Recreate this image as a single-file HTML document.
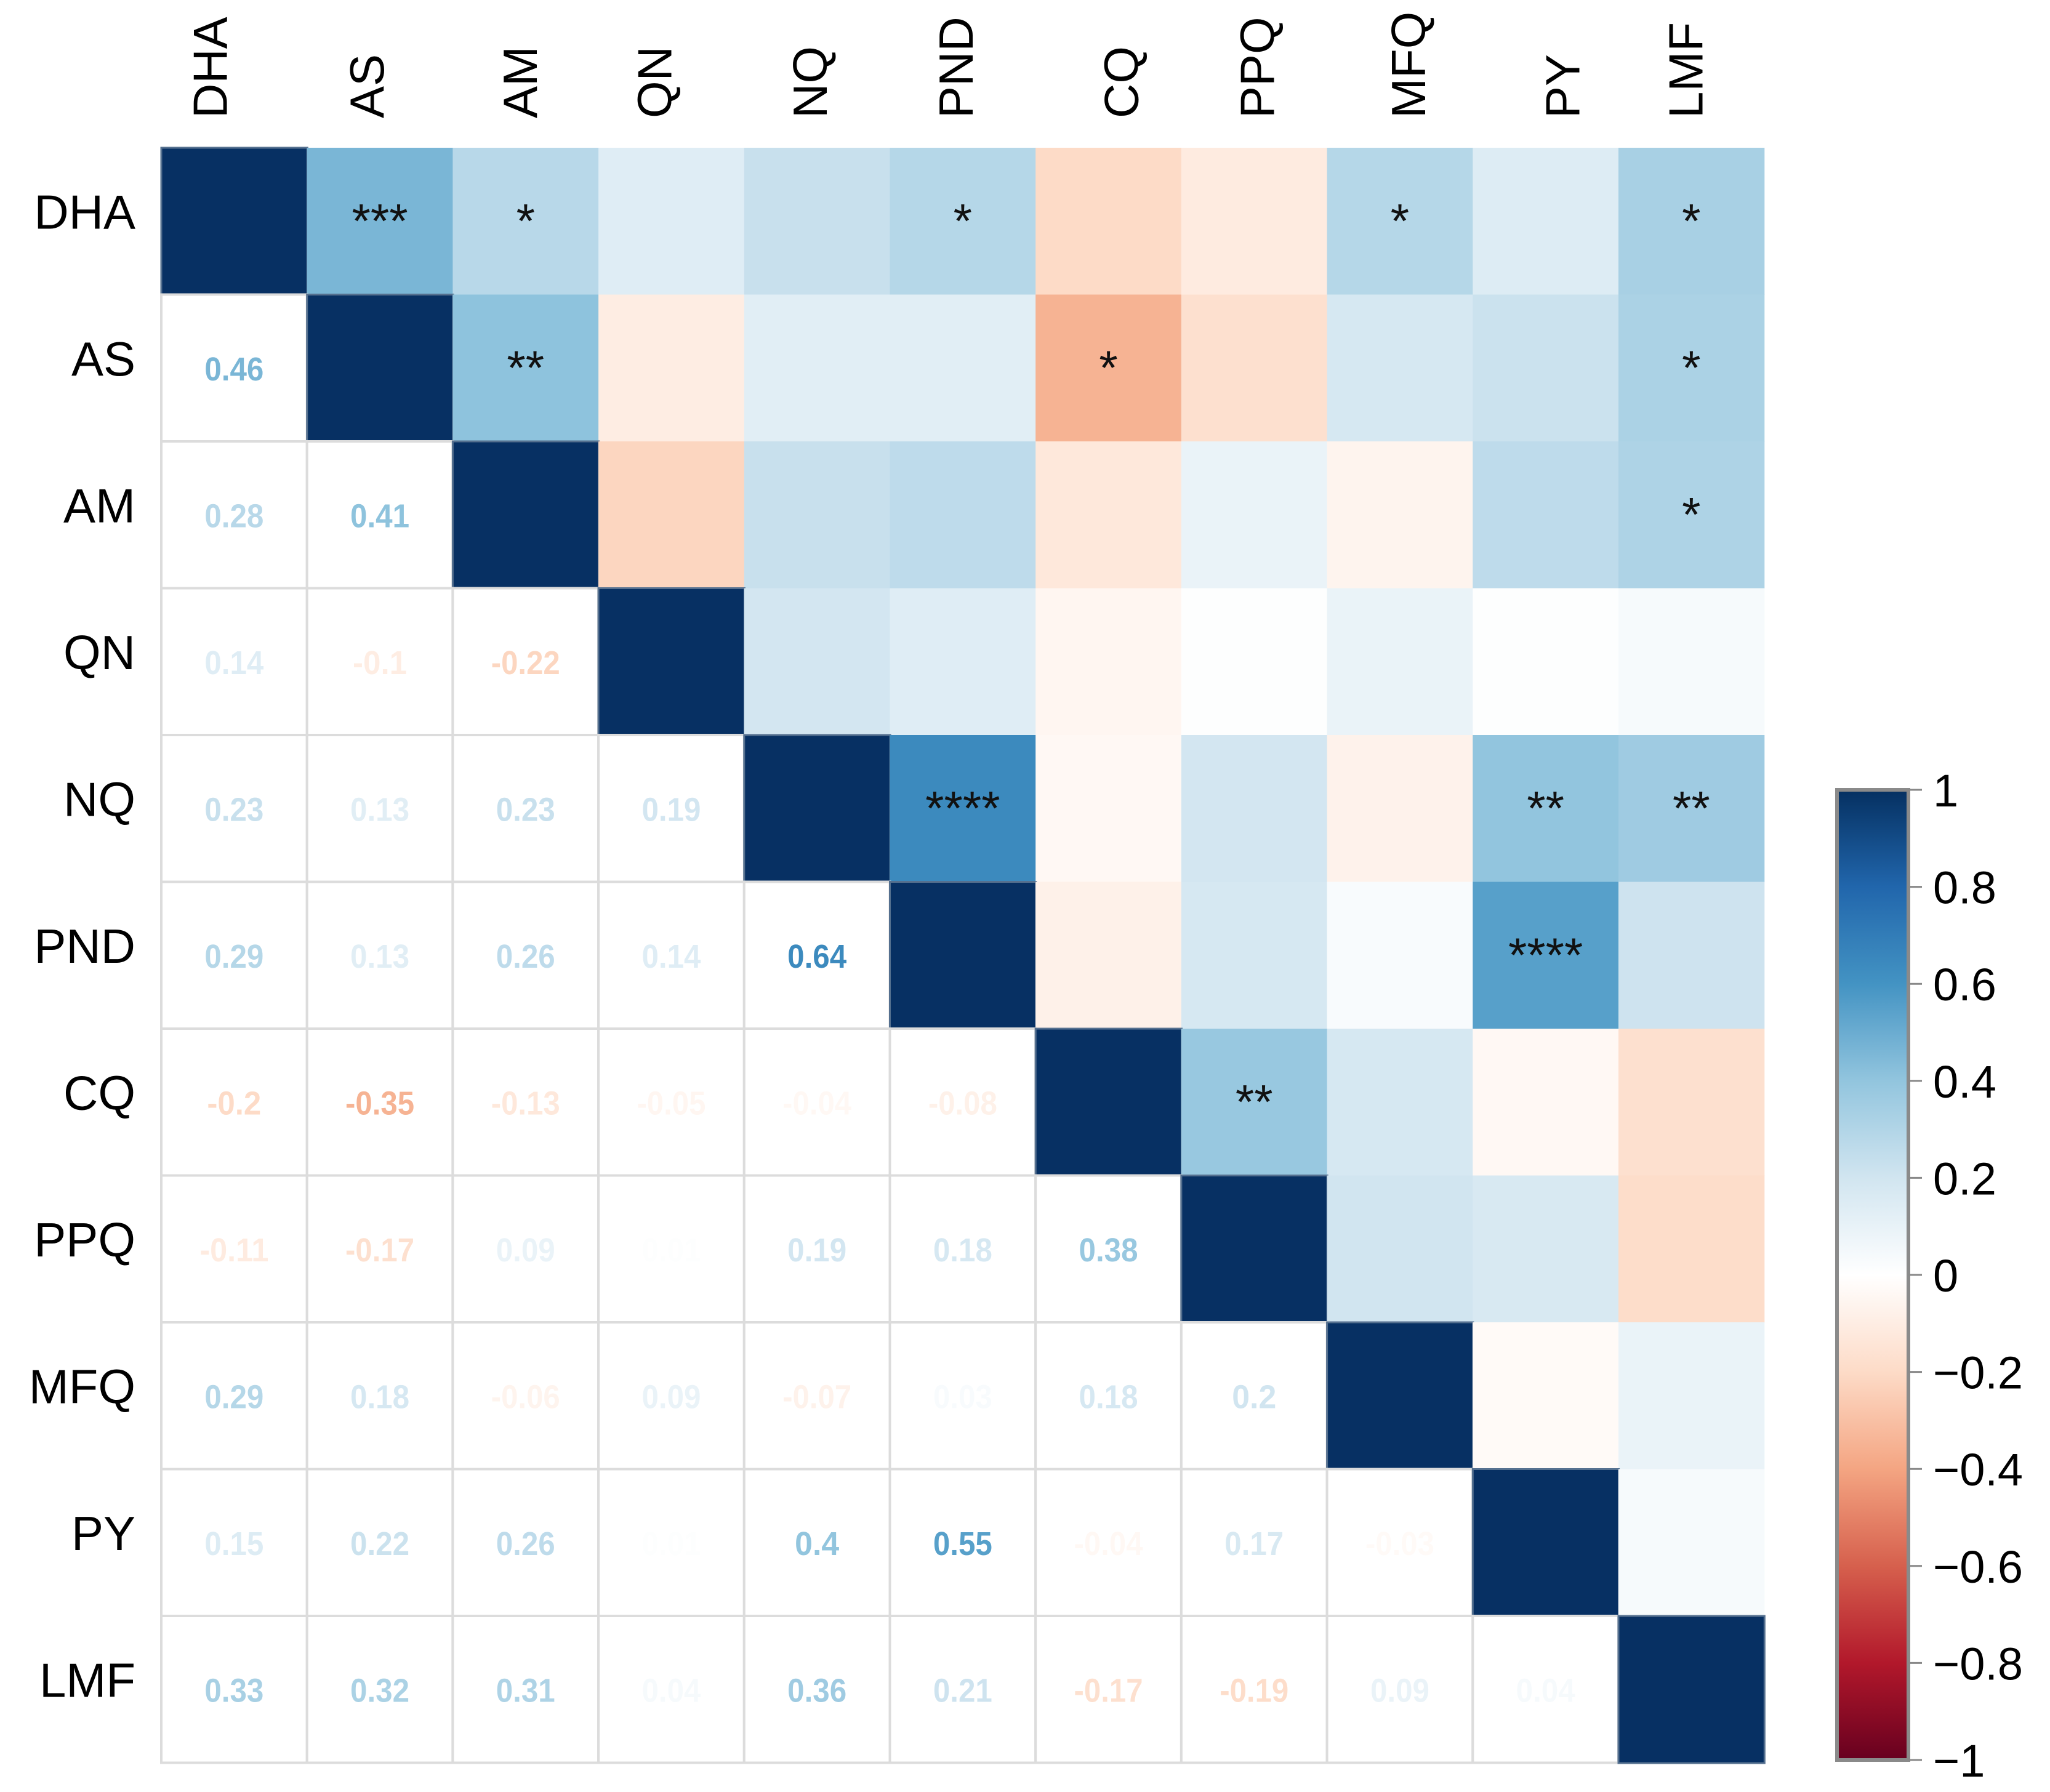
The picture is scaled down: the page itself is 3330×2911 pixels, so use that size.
<!DOCTYPE html>
<html><head><meta charset="utf-8"><style>
html,body{margin:0;padding:0;background:#fff;}
svg{display:block;font-family:"Liberation Sans",Arial,sans-serif;}
</style></head><body>
<svg id="chart" width="3330" height="2911" viewBox="0 0 3330 2911" xmlns="http://www.w3.org/2000/svg">
<defs>
<linearGradient id="cbar" x1="0" y1="1" x2="0" y2="0">
<stop offset="0" stop-color="#67001f"/><stop offset="0.1" stop-color="#b2182b"/><stop offset="0.2" stop-color="#d6604d"/><stop offset="0.3" stop-color="#f4a582"/><stop offset="0.4" stop-color="#fddbc7"/><stop offset="0.5" stop-color="#ffffff"/><stop offset="0.6" stop-color="#d1e5f0"/><stop offset="0.7" stop-color="#92c5de"/><stop offset="0.8" stop-color="#4393c3"/><stop offset="0.9" stop-color="#2166ac"/><stop offset="1" stop-color="#053061"/>
</linearGradient>
</defs>
<g id="cells"></g><g id="labels"></g>
<g id="legend"></g>
</svg>
<script>
const vars = ["DHA","AS","AM","QN","NQ","PND","CQ","PPQ","MFQ","PY","LMF"];
// lower-triangle correlations, row i has i values
const corrRows = [
 [],
 [0.46],
 [0.28,0.41],
 [0.14,-0.1,-0.22],
 [0.23,0.13,0.23,0.19],
 [0.29,0.13,0.26,0.14,0.64],
 [-0.2,-0.35,-0.13,-0.05,-0.04,-0.08],
 [-0.11,-0.17,0.09,0.01,0.19,0.18,0.38],
 [0.29,0.18,-0.06,0.09,-0.07,0.03,0.18,0.2],
 [0.15,0.22,0.26,0.01,0.4,0.55,-0.04,0.17,-0.03],
 [0.33,0.32,0.31,0.04,0.36,0.21,-0.17,-0.19,0.09,0.04]
];
// significance stars in upper triangle: [row, col, stars]
const sigStars = [[0,1,"***"],[0,2,"*"],[0,5,"*"],[0,8,"*"],[0,10,"*"],[1,2,"**"],[1,6,"*"],[1,10,"*"],[2,10,"*"],[4,5,"****"],[4,9,"**"],[4,10,"**"],[5,9,"****"],[6,7,"**"]];
const legendTicks = [1,0.8,0.6,0.4,0.2,0,-0.2,-0.4,-0.6,-0.8,-1];
const legendLabels = ["1","0.8","0.6","0.4","0.2","0","\u22120.2","\u22120.4","\u22120.6","\u22120.8","\u22121"];

const NS="http://www.w3.org/2000/svg";
const x0=262, y0=240, cw=236.7, ch=238.5;
const colX = i => x0 + i*cw;
const rowY = i => y0 + i*ch;
const stops=[[-1,[103,0,31]],[-0.8,[178,24,43]],[-0.6,[214,96,77]],[-0.4,[244,165,130]],[-0.2,[253,219,199]],[0,[255,255,255]],[0.2,[209,229,240]],[0.4,[146,197,222]],[0.6,[67,147,195]],[0.8,[33,102,172]],[1,[5,48,97]]];
function color(v){
  for(let k=0;k<stops.length-1;k++){
    const [a,ca]=stops[k],[b,cb]=stops[k+1];
    if(v>=a&&v<=b){const t=(v-a)/(b-a);return "rgb("+ca.map((c,j)=>Math.round(c+(cb[j]-c)*t)).join(",")+")";}
  }
  return "rgb(5,48,97)";
}
function corr(i,j){ if(i===j) return 1; return i>j?corrRows[i][j]:corrRows[j][i]; }
function mk(tag,attrs,parent){const e=document.createElementNS(NS,tag);for(const k in attrs)e.setAttribute(k,attrs[k]);parent.appendChild(e);return e;}

const cells=document.getElementById('cells');
const n=vars.length;
for(let i=0;i<n;i++)for(let j=0;j<n;j++){
  const v=corr(i,j);
  let r;
  if(j<i){
    r=mk('rect',{x:colX(j),y:rowY(i),width:cw,height:ch,fill:'#fff',stroke:'#dcdcdc','stroke-width':4},cells);
  } else {
    r=mk('rect',{x:colX(j),y:rowY(i),width:cw+0.6,height:ch+0.6,fill:i===j?'#073063':color(v)},cells);
    if(i===j){r.setAttribute('stroke','#55708f');r.setAttribute('stroke-width','3');}
  }
  
  
}
for(let i=1;i<n;i++)for(let j=0;j<i;j++){
  const v=corrRows[i][j];
  const t=mk('text',{x:colX(j)+cw/2,y:rowY(i)+ch/2+20,'text-anchor':'middle','font-size':54,'font-weight':'bold',fill:color(v),'textLength':String(Math.abs(v)).length*24+(v<0?16:0),'lengthAdjust':'spacingAndGlyphs'},cells);
  t.textContent=String(v);
  
  
}
sigStars.forEach(s=>{
  const t=mk('text',{x:colX(s[1])+cw/2,y:rowY(s[0])+ch/2+26,'text-anchor':'middle','font-size':78,fill:'#111'},cells);
  t.textContent=s[2];
  
  
});
const labels=document.getElementById('labels');
const colLabelOffset=[-40,-22,-10,-28,-12,-12,20,4,13,27,-10];
vars.forEach((name,i)=>{
  const t=mk('text',{x:x0-42,y:rowY(i)+ch/2+12,'text-anchor':'end','font-size':78,fill:'#000'},labels);
  t.textContent=name;
  
  
  const cx=colX(i)+cw/2+colLabelOffset[i]+28;
  const c=mk('text',{x:cx,y:192,'text-anchor':'start','font-size':78,fill:'#000',transform:'rotate(-90 '+cx+' 192)'},labels);
  c.textContent=name;
  
  
});
const lg=document.getElementById('legend');
const lx=2984, lw=116, ly0=1283, ly1=2859;
const ly=v=>ly1-(v+1)/2*(ly1-ly0);
const bar=mk('rect',{x:lx,y:ly0,width:lw,height:ly1-ly0,fill:'url(#cbar)',stroke:'#8a8a8a','stroke-width':6},lg);


legendTicks.forEach((v,k)=>{
  const tk=mk('line',{x1:lx+lw,x2:lx+lw+22,y1:ly(v),y2:ly(v),stroke:'#888','stroke-width':3},lg);
  
  
  const t=mk('text',{x:3140,y:ly(v)+27,'font-size':74,fill:'#000'},lg);
  t.textContent=legendLabels[k];
  
  
});
</script>
</body></html>
